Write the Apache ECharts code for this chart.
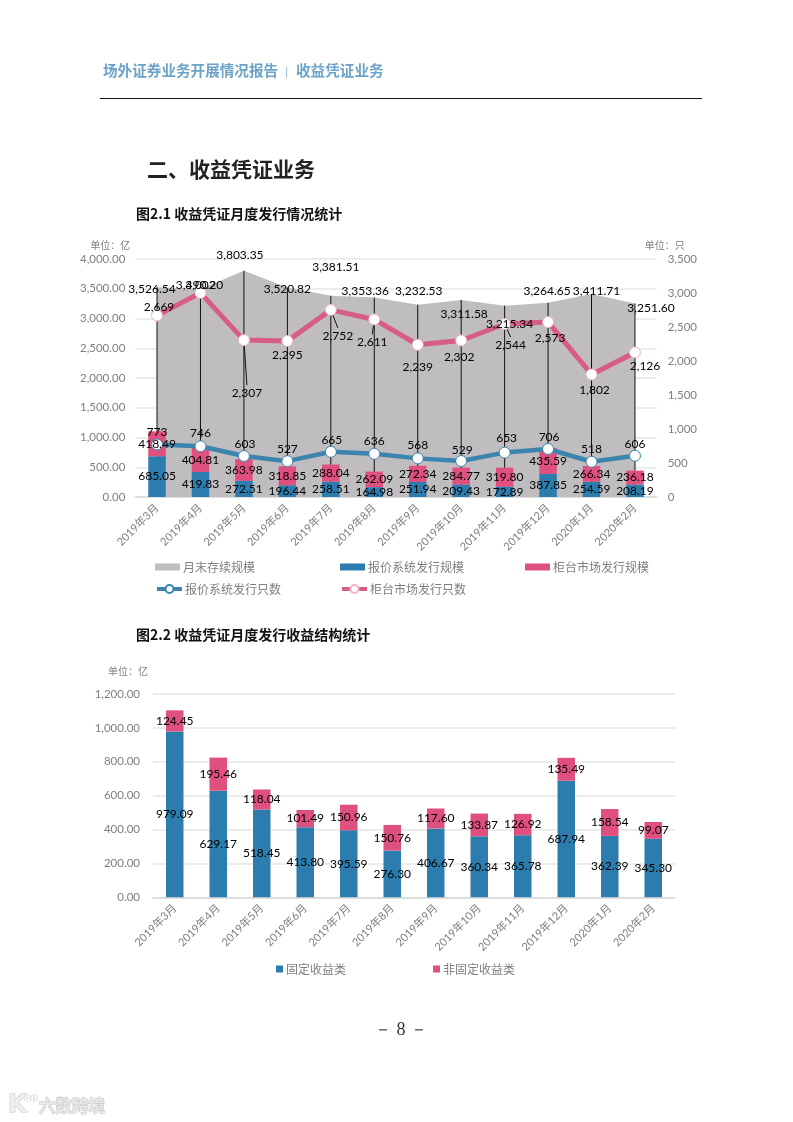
<!DOCTYPE html>
<html>
<head>
<meta charset="utf-8">
<title>收益凭证业务</title>
<script src="https://cdn.jsdelivr.net/npm/echarts@6/dist/echarts.min.js"></script>
<style>
html, body { margin: 0; padding: 0; background: #fff; }
#main { width: 793px; height: 1122px; }
</style>
</head>
<body>
<div id="main"></div>
<script>
var months = ['2019年3月', '2019年4月', '2019年5月', '2019年6月', '2019年7月', '2019年8月', '2019年9月', '2019年10月', '2019年11月', '2019年12月', '2020年1月', '2020年2月'];

// 图2.1
var stockScale = [3526.54, 3490.20, 3803.35, 3520.82, 3381.51, 3353.36, 3232.53, 3311.58, 3215.34, 3264.65, 3411.71, 3251.60];
var quoteScale = [685.05, 419.83, 272.51, 196.44, 258.51, 164.98, 251.94, 209.43, 172.89, 387.85, 254.59, 208.19];
var counterScale = [418.49, 404.81, 363.98, 318.85, 288.04, 262.09, 272.34, 284.77, 319.80, 435.59, 266.34, 236.18];
var quoteCount = [773, 746, 603, 527, 665, 636, 568, 529, 653, 706, 518, 606];
var counterCount = [2669, 3002, 2307, 2295, 2752, 2611, 2239, 2302, 2544, 2573, 1802, 2126];

// 图2.2
var fixedIncome = [979.09, 629.17, 518.45, 413.80, 395.59, 276.30, 406.67, 360.34, 365.78, 687.94, 362.39, 345.30];
var nonFixedIncome = [124.45, 195.46, 118.04, 101.49, 150.96, 150.76, 117.60, 133.87, 126.92, 135.49, 158.54, 99.07];

// 标签相对数据点的偏移
var stockOffset = [[-5, 2], [-1, -4], [-4, -16], [0, 2], [5, -29], [-9, -6], [1, -14], [3, 14], [5, 18], [-1, -12], [5, -3], [16, 5]];
var quoteCountOffset = [[0, -12], [0, -13], [1, -12], [0, -12], [1, -12], [0, -13], [0, -13], [1, -11], [2, -14], [1, -12], [0, -13], [0, -12]];
var counterCountOffset = [[2, -8], [0, -8], [3, 53], [0, 14], [7, 26], [-2, 23], [0, 22], [-2, 17], [6, 21], [2, 16], [3, 16], [10, 14]];
// 需要引线的点
var leaderIndex = [2, 4, 5, 8];

var GRAY = '#7f7f7f';
var BLUE = '#2c7dad';
var PINK = '#e0507f';
var AREA = '#bfbdbf';
var NUM_FONT = 'Lato';
var CJK_FONT = '"Noto Sans CJK SC"';

function fmt2(v) {
    return v.toLocaleString('en-US', { minimumFractionDigits: 2, maximumFractionDigits: 2 });
}
function fmt0(v) {
    return v.toLocaleString('en-US');
}

function withOffset(values, offsets, formatter) {
    return values.map(function (v, i) {
        return {
            value: v,
            label: { show: true, position: 'inside', offset: offsets[i], formatter: formatter(v) }
        };
    });
}

function barSeries(name, values, color, xIndex, yIndex, stack) {
    return {
        name: name,
        type: 'bar',
        stack: stack,
        xAxisIndex: xIndex,
        yAxisIndex: yIndex,
        barWidth: 17.5,
        barGap: '-100%',
        z: 2,
        itemStyle: { color: color },
        data: values
    };
}

// 透明柱只负责画标签，让数字盖在折线圆点之上
function barLabelSeries(name, values, xIndex, yIndex, stack) {
    var s = barSeries(name, values, 'transparent', xIndex, yIndex, stack + 'Label');
    s.z = 3;
    s.silent = true;
    s.label = {
        show: true,
        position: 'inside',
        color: '#000',
        fontFamily: NUM_FONT,
        fontSize: 12,
        formatter: function (p) { return fmt2(p.value); }
    };
    return s;
}

function countSeries(name, values, offsets, color, borderColor, width) {
    return {
        name: name,
        type: 'line',
        xAxisIndex: 0,
        yAxisIndex: 1,
        z: 2,
        symbol: 'circle',
        symbolSize: 11,
        showAllSymbol: true,
        lineStyle: { color: color, width: width },
        itemStyle: { color: '#fff', borderColor: borderColor, borderWidth: 1 },
        label: { color: '#000', fontFamily: NUM_FONT, fontSize: 12 },
        data: withOffset(values, offsets, fmt0)
    };
}

function xAxis(gridIndex) {
    return {
        type: 'category',
        gridIndex: gridIndex,
        data: months,
        axisTick: { show: false },
        axisLine: { lineStyle: { color: '#d9d9d9', width: 1.5 } },
        axisLabel: { color: GRAY, fontFamily: NUM_FONT + ',' + CJK_FONT, fontSize: 11, rotate: 45, interval: 0, margin: 9 }
    };
}

function yValueAxis(gridIndex, max, interval, name, nameGap, margin) {
    return {
        type: 'value',
        gridIndex: gridIndex,
        min: 0,
        max: max,
        interval: interval,
        name: name,
        nameGap: nameGap,
        nameTextStyle: { color: GRAY, fontFamily: CJK_FONT, fontSize: 10, align: 'right', padding: [0, 5, 0, 0] },
        axisLine: { show: false },
        axisTick: { show: false },
        axisLabel: { color: GRAY, fontFamily: NUM_FONT, fontSize: 11.5, margin: margin, formatter: fmt2 },
        splitLine: { lineStyle: { color: '#e6e6e6', width: 1.5 } }
    };
}

function legendAt(name, left, top, icon, itemWidth, itemHeight) {
    return {
        data: [{ name: name, icon: icon }],
        left: left,
        top: top,
        itemWidth: itemWidth,
        itemHeight: itemHeight,
        itemGap: 0,
        padding: 0,
        selectedMode: false,
        lineStyle: { width: 4 },
        textStyle: { color: GRAY, fontFamily: CJK_FONT, fontSize: 12, padding: [0, 0, 0, -2] }
    };
}

function pageText(text, x, y, style) {
    return {
        type: 'text',
        x: x,
        y: y,
        style: Object.assign({ text: text, textVerticalAlign: 'middle' }, style)
    };
}

var option = {
    animation: false,
    backgroundColor: '#fff',
    textStyle: { fontFamily: CJK_FONT },
    grid: [
        { left: 135.3, right: 793 - 656.7, top: 259, height: 238 },
        { left: 153, right: 793 - 675, top: 694, height: 203.3 }
    ],
    xAxis: [xAxis(0), xAxis(1)],
    yAxis: [
        yValueAxis(0, 4000, 500, '单位：亿', 9, 10),
        {
            type: 'value',
            gridIndex: 0,
            position: 'right',
            min: 0,
            max: 3500,
            interval: 500,
            name: '单位：只',
            nameGap: 9,
            nameTextStyle: { color: GRAY, fontFamily: CJK_FONT, fontSize: 10, align: 'center', padding: [0, 0, 0, 16] },
            axisLine: { show: false },
            axisTick: { show: false },
            axisLabel: { color: GRAY, fontFamily: NUM_FONT, fontSize: 11.5, margin: 11, formatter: fmt0 },
            splitLine: { show: false }
        },
        yValueAxis(1, 1200, 200, '单位：亿', 18, 13)
    ],
    legend: [
        legendAt('月末存续规模', 155, 561, 'rect', 25, 7),
        legendAt('报价系统发行规模', 340, 561, 'rect', 25, 7),
        legendAt('柜台市场发行规模', 525, 561, 'rect', 25, 7),
        legendAt('报价系统发行只数', 155, 583, undefined, 25, 10),
        legendAt('柜台市场发行只数', 340, 583, undefined, 25, 10),
        legendAt('固定收益类', 276, 963, 'rect', 7, 7),
        legendAt('非固定收益类', 433, 963, 'rect', 7, 7)
    ],
    series: [
        {
            name: '月末存续规模',
            type: 'line',
            xAxisIndex: 0,
            yAxisIndex: 0,
            z: 2,
            symbol: 'none',
            lineStyle: { width: 0, color: AREA },
            areaStyle: { color: AREA, opacity: 1 },
            itemStyle: { color: AREA },
            data: stockScale
        },
        {
            // 存续规模的垂线
            name: 'dropLines',
            type: 'custom',
            xAxisIndex: 0,
            yAxisIndex: 0,
            z: 2,
            silent: true,
            data: stockScale.map(function (v, i) { return [i, v]; }),
            encode: { x: 0, y: 1 },
            renderItem: function (params, api) {
                var top = api.coord([api.value(0), api.value(1)]);
                var bottom = api.coord([api.value(0), 0]);
                return {
                    type: 'line',
                    shape: { x1: top[0], y1: top[1], x2: bottom[0], y2: bottom[1] },
                    style: { stroke: '#111', lineWidth: 1 }
                };
            }
        },
        barSeries('报价系统发行规模', quoteScale, BLUE, 0, 0, 'scale'),
        barSeries('柜台市场发行规模', counterScale, PINK, 0, 0, 'scale'),
        countSeries('报价系统发行只数', quoteCount, quoteCountOffset, '#3a84ae', '#3a84ae', 4.5),
        countSeries('柜台市场发行只数', counterCount, counterCountOffset, '#d85d84', '#efb6c8', 5),
        {
            // 标签引线
            name: 'leaders',
            type: 'custom',
            xAxisIndex: 0,
            yAxisIndex: 1,
            z: 2,
            silent: true,
            data: leaderIndex.map(function (i) { return [i, counterCount[i]]; }),
            encode: { x: 0, y: 1 },
            renderItem: function (params, api) {
                var i = api.value(0);
                var p = api.coord([i, api.value(1)]);
                var off = counterCountOffset[i];
                return {
                    type: 'line',
                    shape: { x1: p[0], y1: p[1], x2: p[0] + off[0], y2: p[1] + off[1] - 8 },
                    style: { stroke: '#111', lineWidth: 1 }
                };
            }
        },
        {
            // 存续规模的数字，单独一层放在最上面
            name: 'stockLabels',
            type: 'line',
            xAxisIndex: 0,
            yAxisIndex: 0,
            z: 3,
            silent: true,
            symbol: 'circle',
            symbolSize: 1,
            showAllSymbol: true,
            lineStyle: { width: 0 },
            itemStyle: { color: 'transparent' },
            label: { color: '#000', fontFamily: NUM_FONT, fontSize: 12, opacity: 1 },
            data: withOffset(stockScale, stockOffset, fmt2)
        },
        barLabelSeries('quoteScaleLabels', quoteScale, 0, 0, 'scale'),
        barLabelSeries('counterScaleLabels', counterScale, 0, 0, 'scale'),
        barSeries('固定收益类', fixedIncome, BLUE, 1, 2, 'income'),
        barSeries('非固定收益类', nonFixedIncome, PINK, 1, 2, 'income'),
        barLabelSeries('fixedIncomeLabels', fixedIncome, 1, 2, 'income'),
        barLabelSeries('nonFixedIncomeLabels', nonFixedIncome, 1, 2, 'income')
    ],
    graphic: [
        pageText('场外证券业务开展情况报告', 103, 70, { fill: '#6da3c8', font: 'bold 14.6px ' + CJK_FONT }),
        pageText('|', 285, 71, { fill: '#6da3c8', font: '10px ' + CJK_FONT }),
        pageText('收益凭证业务', 296, 70, { fill: '#6da3c8', font: 'bold 14.6px ' + CJK_FONT }),
        { type: 'line', shape: { x1: 100, y1: 98.5, x2: 702, y2: 98.5 }, style: { stroke: '#111', lineWidth: 1 } },
        pageText('二、收益凭证业务', 147, 169, { fill: '#222', font: 'bold 21px ' + CJK_FONT }),
        pageText('图2.1 收益凭证月度发行情况统计', 136, 214, { fill: '#111', font: 'bold 14px ' + CJK_FONT }),
        pageText('图2.2 收益凭证月度发行收益结构统计', 136, 635, { fill: '#111', font: 'bold 14px ' + CJK_FONT }),
        pageText('－ 8 －', 401, 1030, { fill: '#333', font: '18px "Liberation Serif"', textAlign: 'center' }),
        pageText('K', 8, 1106, { fill: '#eee', stroke: '#c4c4c4', lineWidth: 1, font: 'bold 24px "DejaVu Sans"' }),
        pageText('oo', 24, 1098, { fill: '#fff', stroke: '#c4c4c4', lineWidth: 1, font: 'bold 10px "DejaVu Sans"' }),
        pageText('六数跨境', 39, 1106, { fill: '#e8e8e8', stroke: '#c4c4c4', lineWidth: 1, font: 'bold 16.5px ' + CJK_FONT })
    ]
};

var myChart = echarts.init(document.getElementById('main'), null, { renderer: 'canvas' });
myChart.setOption(option);
</script>
</body>
</html>
